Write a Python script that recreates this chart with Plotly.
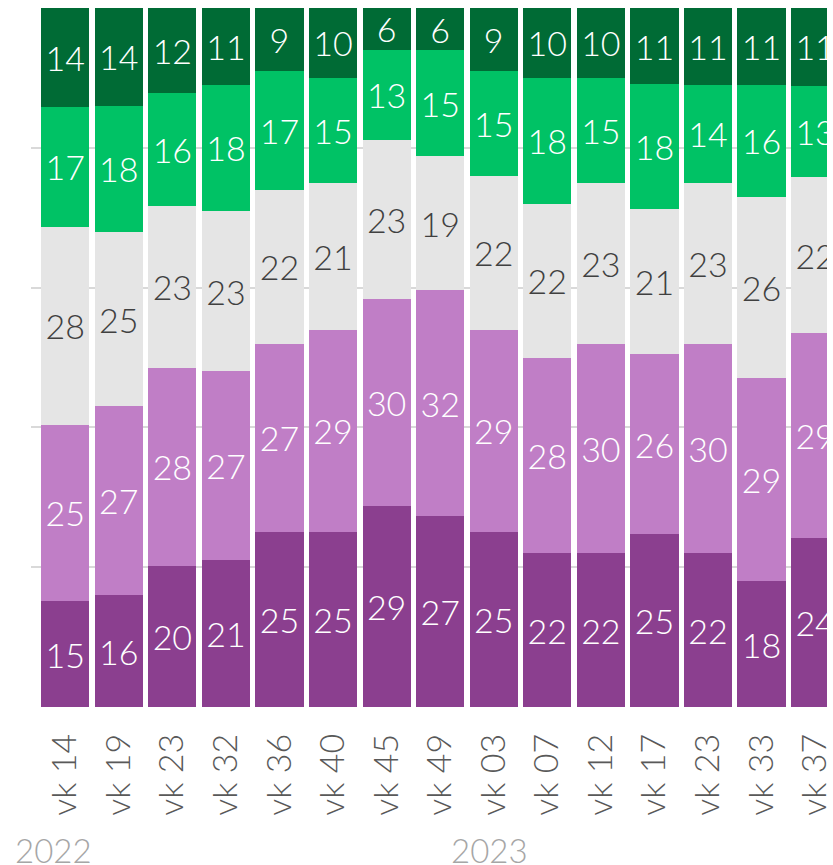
import plotly.graph_objects as go

weeks = ["vk 14", "vk 19", "vk 23", "vk 32", "vk 36", "vk 40", "vk 45", "vk 49",
         "vk 03", "vk 07", "vk 12", "vk 17", "vk 23", "vk 33", "vk 37"]
years = ["2022", "2023"]

s_dark_purple = [15, 16, 20, 21, 25, 25, 29, 27, 25, 22, 22, 25, 22, 18, 24]
s_light_purple = [25, 27, 28, 27, 27, 29, 30, 32, 29, 28, 30, 26, 30, 29, 29]
s_gray = [28, 25, 23, 23, 22, 21, 23, 19, 22, 22, 23, 21, 23, 26, 22]
s_light_green = [17, 18, 16, 18, 17, 15, 13, 15, 15, 18, 15, 18, 14, 16, 13]
s_dark_green = [14, 14, 12, 11, 9, 10, 6, 6, 9, 10, 10, 11, 11, 11, 11]

FONT = "Lato"
xs = list(range(len(weeks)))

series = [
    (s_dark_purple, "#8B3F8F", "white"),
    (s_light_purple, "#C07EC6", "white"),
    (s_gray, "#E5E5E5", "#404040"),
    (s_light_green, "#00C265", "white"),
    (s_dark_green, "#006B35", "white"),
]

fig = go.Figure()
for vals, col, tcol in series:
    fig.add_trace(go.Bar(
        x=xs, y=vals, marker=dict(color=col, line=dict(width=0)),
        text=[str(v) for v in vals], textposition="inside",
        insidetextanchor="middle", textangle=0, constraintext="none",
        textfont=dict(family=FONT, size=34, color=tcol, weight=300),
        hoverinfo="skip", showlegend=False,
    ))

fig.add_annotation(x=-0.21, y=-0.2045, xref="x", yref="paper", text=years[0],
                   showarrow=False, xanchor="center", yanchor="middle",
                   font=dict(family=FONT, size=33, color="#A6A6A6", weight=300))
fig.add_annotation(x=7.93, y=-0.2045, xref="x", yref="paper", text=years[1],
                   showarrow=False, xanchor="center", yanchor="middle",
                   font=dict(family=FONT, size=33, color="#A6A6A6", weight=300))

fig.update_layout(
    width=833, height=865,
    margin=dict(l=31, r=0, t=8, b=158),
    barmode="stack", barnorm="percent", bargap=0.1,
    plot_bgcolor="white", paper_bgcolor="white",
    xaxis=dict(range=[-0.639, 14.222], tickmode="array", tickvals=xs, ticktext=weeks,
               tickangle=-90, showgrid=False, zeroline=False, showline=False,
               ticks="", ticklabelstandoff=19, ticklabeloverflow="allow",
               tickfont=dict(family=FONT, size=34, color="#595959", weight=300)),
    yaxis=dict(range=[0, 100], dtick=20, showticklabels=False, showgrid=True,
               gridcolor="#D9D9D9", gridwidth=2, zeroline=False, showline=False, ticks=""),
)

fig.write_html(
    "out.html",
    config={"responsive": False, "displayModeBar": False},
    post_script="document.body.style.margin='0';document.body.style.overflow='hidden';",
)
